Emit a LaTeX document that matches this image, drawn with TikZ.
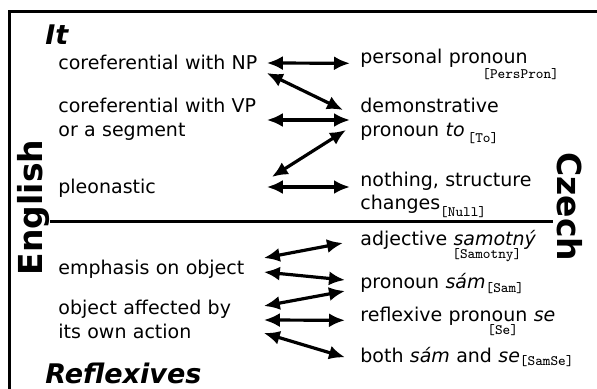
\documentclass[tikz,border=0pt]{standalone}
\usepackage{fontspec}
\setmainfont{DejaVu Sans}
\usetikzlibrary{arrows.meta}
\newcommand{\cztag}[3]{\leavevmode\rlap{\hspace*{#1}\raisebox{#2}{\fontsize{7.2}{8}\selectfont\ttfamily #3}}}

\begin{document}
\begin{tikzpicture}[x=0.5pt, y=-0.5pt,
            every node/.style={font=\fontsize{9.5}{11.75}\selectfont, inner sep=0pt},
            eng/.style={anchor=west, text width=102pt, align=left, inner xsep=2pt,
                execute at begin node=\strut, execute at end node=\strut},
            cz/.style={anchor=west, text width=110pt, align=left, inner xsep=5pt,
                execute at begin node=\strut, execute at end node=\strut},
            head/.style={anchor=base west, font=\fontsize{13.5}{15}\selectfont\bfseries\itshape},
            lang/.style={anchor=base, font=\fontsize{16.5}{19}\selectfont\bfseries},
            arr/.style={line width=1.6pt, {Latex[length=8pt,width=7pt]}-{Latex[length=8pt,width=7pt]}}]
            \useasboundingbox (0,0) rectangle (597,389);
            \draw[line width=1.5pt] (9,389) -- (9,12) -- (597,12);
            \draw[line width=1.5pt] (50,221) -- (553,221);
            \node[head] (it) at (45,45) {It};
            \node[head] (refl) at (45,383) {Reflexives};
            \node[lang, rotate=90] (english) at (42,207.5) {English};
            \node[lang, rotate=-90] (czech) at (557,207) {Czech};
            \node[eng] (np) at (54,65.3) {coreferential with NP};
            \node[eng] (vp) at (54,120) {coreferential with VP\\or a segment};
            \node[eng] (pleo) at (54,188.3) {pleonastic};
            \node[eng] (emph) at (54,269.3) {emphasis on object};
            \node[eng] (affect) at (54,322) {object affected by\\its own action};
            \node[cz] (pers) at (350,63.3) {\cztag{61pt}{-7.5pt}{[PersPron]}personal pronoun};
            \node[cz] (demo) at (350,120) {demonstrative\\pronoun \textit{to}\cztag{1.5pt}{-3pt}{[To]}};
            \node[cz] (null) at (350,194) {nothing, structure\\changes\cztag{0pt}{-3.5pt}{[Null]}};
            \node[cz] (adj) at (350,245.3) {\cztag{46pt}{-6.5pt}{[Samotny]}adjective \textit{samotný}};
            \node[cz] (sam) at (350,283.3) {pronoun \textit{sám}\cztag{0pt}{-2pt}{[Sam]}};
            \node[cz] (se) at (350,320.3) {\cztag{63.5pt}{-6.5pt}{[Se]}reflexive pronoun \textit{se}};
            \node[cz] (both) at (350,357.3) {both \textit{sám} and \textit{se}\cztag{0pt}{-1.5pt}{[SamSe]}};
            \draw[arr] ([yshift=1.15pt]np.east) -- (pers.west);
            \draw[arr] ([yshift=-3.85pt]np.east) -- ([xshift=-3.5pt,yshift=5pt]demo.west);
            \draw[arr] (vp.east) -- (demo.west);
            \draw[arr] ([xshift=2.5pt,yshift=5.65pt]pleo.east) -- ([xshift=-2pt,yshift=-5pt]demo.west);
            \draw[arr] ([yshift=0.65pt]pleo.east) -- ([yshift=3.5pt]null.west);
            \draw[arr] ([xshift=-1.5pt,yshift=5.65pt]emph.east) -- ([xshift=-3.5pt,yshift=1.15pt]adj.west);
            \draw[arr] ([xshift=-1.5pt,yshift=-1.35pt]emph.east) -- ([xshift=-2.5pt,yshift=1.65pt]sam.west);
            \draw[arr] ([xshift=-1.5pt,yshift=8pt]affect.east) -- ([xshift=-2.5pt,yshift=-3.85pt]sam.west);
            \draw[arr] ([xshift=-1.5pt,yshift=1pt]affect.east) -- ([xshift=-2.5pt]se.west);
            \draw[arr] ([xshift=-1.5pt,yshift=-5.5pt]affect.east) -- ([xshift=-2.5pt]both.west);
        \end{tikzpicture}
\end{document}
